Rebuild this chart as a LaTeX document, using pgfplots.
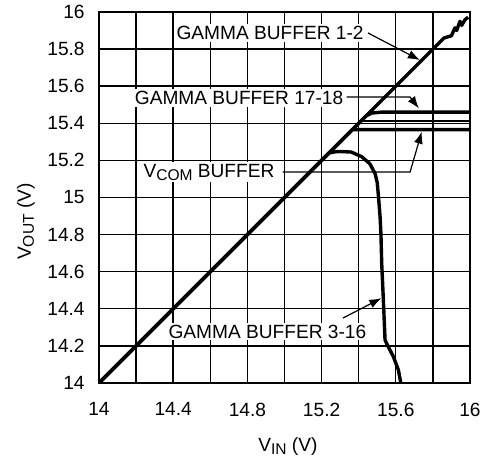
\documentclass[border=0pt]{standalone}
\usepackage{pgfplots}
\pgfplotsset{compat=1.18}
\usepackage{fontspec}
\setmainfont{Liberation Sans}
\usetikzlibrary{arrows.meta}
\newcommand{\sub}[1]{\raisebox{-0.3ex}{\fontsize{7.8}{8}\selectfont #1}}
\begin{document}
\fontsize{9.6}{11.5}\selectfont
\begin{tikzpicture}
\useasboundingbox (-49.5bp,-38bp) rectangle (195.5bp,191.5bp);
\begin{axis}[
  at={(0,0)}, anchor=south west,
  width=185.5bp, height=185.5bp, scale only axis,
  xmin=14, xmax=16, ymin=14, ymax=16,
  xtick={14,14.4,14.8,15.2,15.6,16},
  minor xtick={14.2,14.6,15,15.4,15.8},
  ytick={14,14.2,14.4,14.6,14.8,15,15.2,15.4,15.6,15.8,16},
  scaled ticks=false,
  grid=both,
  major grid style={black, line width=0.7bp},
  minor grid style={black, line width=0.7bp},
  axis line style={black, line width=1bp},
  major tick length=0pt, minor tick length=0pt,
  tick label style={font=\fontsize{9.6}{11.5}\selectfont},
  /pgf/number format/assume math mode=true,
  /pgf/number format/fixed,
  yticklabel style={xshift=-3.8bp},
  xticklabel style={yshift=-6.5bp},
  xlabel={V\sub{IN} (V)},
  ylabel={V\sub{OUT} (V)},
  xlabel style={at={(axis description cs:0.509,0)}, anchor=base, yshift=-34bp},
  ylabel style={at={(axis description cs:-0.197,0.435)}, anchor=center},
  label style={font=\fontsize{9.6}{11.5}\selectfont},
  tr/.style={black, mark=none, line width=1.7bp, line join=round},
]
% Gamma buffer 1-2
\addplot[tr] coordinates {(14,14) (15.5,15.5) (15.86,15.86) (15.90,15.872) (15.919,15.915) (15.928,15.900) (15.946,15.950) (15.955,15.928) (15.973,15.958) (15.99,15.972)};
% Gamma buffer 17-18
\addplot[tr] coordinates {(14,14) (15.44,15.44) (15.47,15.455) (15.52,15.46) (16,15.46)};
% another channel
\addplot[tr, line width=0.8bp] coordinates {(15.40,15.412) (16,15.412)};
% VCOM buffer
\addplot[tr] coordinates {(14,14) (15.365,15.365) (15.39,15.366) (16,15.366)};
% Gamma buffer 3-16
\addplot[tr] coordinates {(14,14) (15.24,15.24) (15.27,15.246) (15.3,15.248) (15.36,15.245) (15.416,15.22) (15.46,15.182) (15.488,15.13) (15.50,15.08) (15.507,15.0) (15.515,14.9) (15.52,14.8) (15.524,14.645) (15.533,14.447) (15.542,14.232) (15.551,14.212) (15.587,14.142) (15.614,14.07) (15.627,14.0)};

\tikzset{lab/.style={fill=white, inner sep=1bp, font=\fontsize{9.6}{11.5}\selectfont},
  arr/.style={line width=0.6bp, -{Latex[length=6bp,width=4.5bp]}}}
\node[lab] at (axis cs:14.922,15.887) {GAMMA BUFFER 1-2};
\draw[arr] (axis cs:15.45,15.887) -- (axis cs:15.73,15.741);
\node[lab] at (axis cs:14.755,15.536) {GAMMA BUFFER 17-18};
\draw[arr] (axis cs:15.335,15.542) -- (axis cs:15.677,15.542) -- (axis cs:15.724,15.481);
\node[lab] at (axis cs:14.593,15.137) {V\sub{COM} BUFFER};
\draw[arr] (axis cs:14.99,15.137) -- (axis cs:15.677,15.137) -- (axis cs:15.740,15.355);
\node[lab] at (axis cs:14.908,14.277) {GAMMA BUFFER 3-16};
\draw[arr] (axis cs:15.315,14.350) -- (axis cs:15.522,14.457);
\end{axis}
\end{tikzpicture}
\end{document}
